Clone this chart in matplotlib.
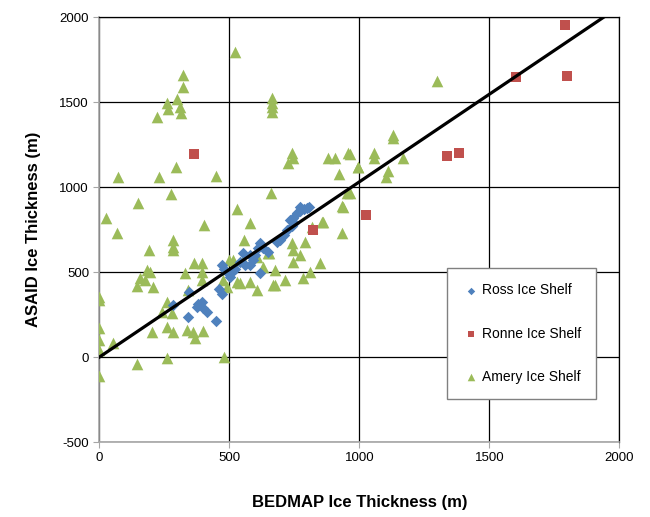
import matplotlib.pyplot as plt
import numpy as np

# Ross Ice Shelf (BEDMAP, ASAID)
ross_x = [341, 448, 393, 412, 374, 380, 400, 284, 346, 470, 460, 470, 480, 495, 502, 510, 520,
          540, 560, 579, 592, 600, 610, 617, 617, 630, 553, 580, 650, 681, 694, 710, 720, 733,
          745, 758, 770, 771, 785, 797, 805, 750, 740]
ross_y = [235, 212, 325, 266, 296, 310, 290, 306, 384, 371, 400, 541, 520, 492, 472, 500, 520,
          560, 540, 541, 571, 600, 640, 669, 492, 640, 610, 600, 620, 678, 688, 720, 750, 806,
          820, 845, 860, 884, 870, 875, 880, 790, 770]

# Ronne Ice Shelf
ronne_x = [362, 1790, 1800, 1602, 1338, 1382, 1025, 821]
ronne_y = [1192, 1955, 1652, 1647, 1182, 1200, 835, 747]

# Amery Ice Shelf
amery_x = [322, 322, 297, 258, 262, 310, 315, 220, 293, 72, 230, 447, 275, 147, 25, 403, 66,
           665, 665, 665, 665, 724, 739, 658, 530, 579, 521, 745, 880, 906, 955, 922, 993, 951,
           935, 855, 1297, 1130, 1057, 1057, 995, 1111, 1102, 1168, 963, 963, 556, 190, 284,
           284, 284, 363, 395, 395, 393, 329, 181, 194, 156, 143, 207, 175, 342, 258, 239, 278,
           201, 258, 284, 335, 361, 399, 367, 53, 0, 0, 0, 0, 0, 0, 143, 258, 479, 515, 553,
           605, 649, 579, 605, 528, 540, 675, 713, 784, 810, 848, 745, 745, 771, 790, 861, 931,
           934, 816, 653, 630, 675, 476, 489, 499, 739, 669, 1130]
amery_y = [1659, 1590, 1516, 1492, 1457, 1472, 1437, 1410, 1120, 1057, 1057, 1065, 959, 908,
           816, 776, 728, 1525, 1497, 1470, 1442, 1139, 1198, 963, 871, 786, 1796, 1169, 1169,
           1169, 1198, 1076, 1116, 967, 884, 796, 1624, 1306, 1198, 1170, 1116, 1096, 1061,
           1169, 1194, 963, 688, 629, 688, 650, 629, 551, 551, 502, 453, 492, 512, 502, 463, 418,
           410, 453, 394, 325, 266, 257, 149, 178, 149, 159, 149, 155, 110, 84, 355, 335, 169,
           100, 41, -112, -41, -8, 2, 571, 571, 590, 610, 443, 394, 443, 433, 424, 453, 463, 502,
           551, 561, 629, 600, 678, 796, 731, 888, 767, 610, 531, 512, 453, 414, 571, 669, 424,
           1290]

# 1:1-ish trend line
line_x = [0, 1940]
line_y = [0, 2000]

x_ticks = [0, 500, 1000, 1500, 2000]
y_ticks = [-500, 0, 500, 1000, 1500, 2000]

plt.rcParams['font.family'] = ['Liberation Sans', 'DejaVu Sans']
plt.rcParams['axes.unicode_minus'] = False

fig = plt.figure(figsize=(6.5, 5.17), dpi=100)
ax = fig.add_axes([0.153, 0.145, 0.800, 0.822])

ax.scatter(amery_x, amery_y, marker='^', s=70, color='#9BBB59', label='Amery Ice Shelf', zorder=3, linewidths=0)
ax.scatter(ross_x, ross_y, marker='D', s=34, color='#4F81BD', label='Ross Ice Shelf', zorder=4, linewidths=0)
ax.scatter(ronne_x, ronne_y, marker='s', s=55, color='#C0504D', label='Ronne Ice Shelf', zorder=4, linewidths=0)
ax.plot(line_x, line_y, color='black', lw=2.3, zorder=5)

ax.set_xlim(0, 2000)
ax.set_ylim(-500, 2000)
ax.set_xticks(x_ticks)
ax.set_yticks(y_ticks)
ax.grid(True, color='black', lw=0.9, zorder=0)
ax.set_axisbelow(True)
for s in ['left', 'bottom']:
    ax.spines[s].set_color('#A6A6A6')
    ax.spines[s].set_linewidth(1.2)
for s in ['top', 'right']:
    ax.spines[s].set_color('black')
    ax.spines[s].set_linewidth(0.9)
ax.tick_params(colors='#A6A6A6', labelcolor='black', labelsize=9.5, length=4)

ax.set_xlabel('BEDMAP Ice Thickness (m)', fontsize=12, fontweight='bold', labelpad=22)
ax.set_ylabel('ASAID Ice Thickness (m)', fontsize=12, fontweight='bold', labelpad=13)

handles, labels = ax.get_legend_handles_labels()
order = [1, 2, 0]
leg = ax.legend([handles[i] for i in order], [labels[i] for i in order],
                loc='lower left', bbox_to_anchor=(0.655, 0.085), fontsize=10,
                labelspacing=2.1, handletextpad=0.1, borderpad=1.1, handlelength=1.3,
                fancybox=False, framealpha=1, edgecolor='#808080', markerscale=0.65)
leg.get_frame().set_linewidth(1.0)

fig.savefig('out.png', dpi=100)
